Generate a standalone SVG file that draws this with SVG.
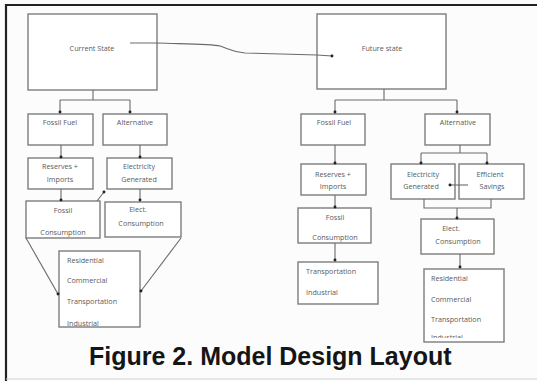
<svg xmlns="http://www.w3.org/2000/svg" width="537" height="381" viewBox="0 0 537 381">
<style>
.box{fill:#fff;stroke:#7d7d7d;stroke-width:1.4}
.t{font-family:"Open Sans","DejaVu Sans",sans-serif;font-size:7.2px;fill:#5a5a5a}
.c{text-anchor:middle}
.con{fill:none;stroke:#6a6a6a;stroke-width:1.1}
.dot{marker-end:url(#d)}
</style>
<defs>
<marker id="d" viewBox="-3 -3 6 6" markerWidth="4" markerHeight="4" markerUnits="userSpaceOnUse" refX="0" refY="0"><circle r="2.2" fill="#222"/></marker>
<clipPath id="clipL"><rect x="59" y="251" width="81" height="75"/></clipPath>
<clipPath id="clipR"><rect x="424" y="269" width="80" height="69"/></clipPath>
</defs>
<rect x="0" y="0" width="537" height="381" fill="#fcfcfc"/>
<line x1="5" y1="5" x2="537" y2="5" stroke="#222" stroke-width="2.2"/>
<line x1="6" y1="4" x2="6" y2="381" stroke="#222" stroke-width="2.2"/>
<line x1="6" y1="379" x2="537" y2="379" stroke="#d0d0d0" stroke-width="1"/>

<g id="current-state"><rect class="box" x="28" y="14" width="129" height="76"/><text class="t c" x="92" y="50.5">Current State</text></g>
<g id="future-state"><rect class="box" x="317" y="14" width="129" height="75"/><text class="t c" x="382" y="50.5">Future state</text></g>

<g id="l-fossil-fuel"><rect class="box" x="28" y="114" width="65" height="31"/><text class="t c" x="60" y="124.5">Fossil Fuel</text></g>
<g id="l-alternative"><rect class="box" x="103" y="114" width="64" height="31"/><text class="t c" x="135" y="124.5">Alternative</text></g>
<g id="l-reserves"><rect class="box" x="28" y="158" width="65" height="31"/><text class="t c" x="60" y="168.5">Reserves +</text><text class="t c" x="60" y="181.5">Imports</text></g>
<g id="l-electricity"><rect class="box" x="107" y="158" width="65" height="31"/><text class="t c" x="139" y="168.5">Electricity</text><text class="t c" x="139" y="181.5">Generated</text></g>
<g id="l-fossil-consumption"><rect class="box" x="26" y="201" width="74" height="37"/><text class="t c" x="63" y="212.5">Fossil</text><text class="t c" x="63" y="234.5">Consumption</text></g>
<g id="l-elect-consumption"><rect class="box" x="105" y="202" width="76" height="35"/><text class="t c" x="138" y="211.5">Elect.</text><text class="t c" x="141" y="225.5">Consumption</text></g>
<g id="l-sectors"><rect class="box" x="59" y="251" width="81" height="76"/><g clip-path="url(#clipL)"><text class="t" x="67" y="262.5">Residential</text><text class="t" x="67" y="282.5">Commercial</text><text class="t" x="67" y="303.5">Transportation</text><text class="t" x="67" y="326">Industrial</text></g></g>

<g id="r-fossil-fuel"><rect class="box" x="301" y="114" width="64" height="31"/><text class="t c" x="334" y="124.5">Fossil Fuel</text></g>
<g id="r-alternative"><rect class="box" x="425" y="114" width="65" height="31"/><text class="t c" x="458" y="124.5">Alternative</text></g>
<g id="r-reserves"><rect class="box" x="301" y="164" width="65" height="31"/><text class="t c" x="333" y="176.5">Reserves +</text><text class="t c" x="333" y="188.5">Imports</text></g>
<g id="r-electricity"><rect class="box" x="391" y="164" width="64" height="35"/><text class="t c" x="423" y="176.5">Electricity</text><text class="t c" x="421" y="188.5">Generated</text></g>
<g id="r-efficient"><rect class="box" x="459" y="164" width="65" height="35"/><text class="t c" x="490" y="176.5">Efficient</text><text class="t c" x="492" y="188.5">Savings</text></g>
<g id="r-fossil-consumption"><rect class="box" x="298" y="208" width="73" height="35"/><text class="t c" x="335" y="219.5">Fossil</text><text class="t c" x="335" y="239.5">Consumption</text></g>
<g id="r-elect-consumption"><rect class="box" x="421" y="219" width="73" height="35"/><text class="t c" x="451" y="230.5">Elect.</text><text class="t c" x="458" y="243.5">Consumption</text></g>
<g id="r-transport"><rect class="box" x="298" y="262" width="80" height="42"/><text class="t" x="306" y="273.5">Transportation</text><text class="t" x="306" y="294.5">Industrial</text></g>
<g id="r-sectors"><rect class="box" x="424" y="269" width="80" height="73"/><g clip-path="url(#clipR)"><text class="t" x="431" y="280.5">Residential</text><text class="t" x="431" y="301.5">Commercial</text><text class="t" x="431" y="321.5">Transportation</text><text class="t" x="431" y="339.5">Industrial</text></g></g>

<g id="connectors">
<path class="con" d="M93,90 V100 M60,100 H130"/>
<path class="con dot" d="M60,100 V112"/>
<path class="con dot" d="M130,100 V112"/>
<path class="con dot" d="M61,145 V157"/>
<path class="con dot" d="M140,145 V157"/>
<path class="con dot" d="M61,189 V200"/>
<path class="con dot" d="M140,189 V200"/>
<path class="con dot" d="M97,201 L104,192"/>
<path class="con dot" d="M26,238 L58,294"/>
<path class="con dot" d="M181,238 L141,291"/>
<path class="con dot" d="M130,43 L157,43 C190,44 212,44 220,46 C229,49 232,52 245,53 L317,55 L332,56"/>
<path class="con" d="M384,89 V100 M335,100 H457"/>
<path class="con dot" d="M335,100 V112"/>
<path class="con dot" d="M457,100 V112"/>
<path class="con dot" d="M335,145 V163"/>
<path class="con" d="M460,145 V153 M421,153 H487"/>
<path class="con dot" d="M421,153 V163"/>
<path class="con dot" d="M487,153 V163"/>
<path class="con dot" d="M468,185 H450"/>
<path class="con" d="M424,199 V208 H491 V199"/>
<path class="con dot" d="M457,208 V218"/>
<path class="con dot" d="M335,195 V207"/>
<path class="con dot" d="M460,254 V267"/>
<path class="con dot" d="M335,243 V260"/>
</g>

<text x="89" y="365" font-family="'Liberation Sans',Arial,sans-serif" font-weight="bold" font-size="25" fill="#151515">Figure 2. Model Design Layout</text>
</svg>
